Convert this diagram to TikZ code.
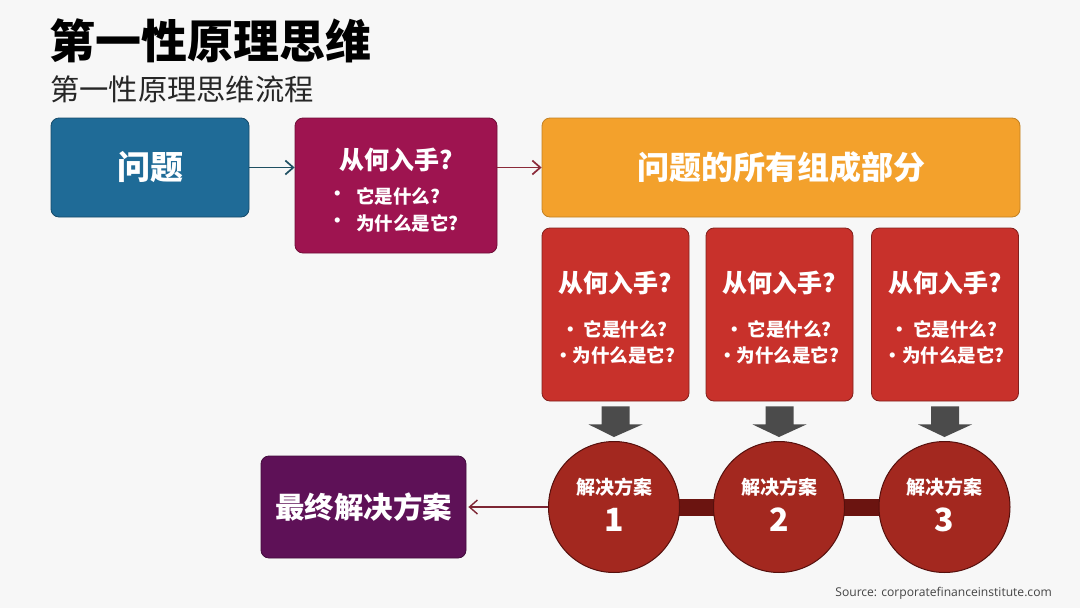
\documentclass[tikz,border=0pt]{standalone}
\usepackage{fontspec}
\setmainfont{Noto Sans CJK SC}
\newfontfamily\srcfont{Open Sans}
\usetikzlibrary{calc,arrows.meta}
\definecolor{bgc}{HTML}{F7F7F7}
\definecolor{blueb}{HTML}{1F6B97}
\definecolor{crim}{HTML}{9E1450}
\definecolor{orng}{HTML}{F3A12C}
\definecolor{redb}{HTML}{C8312B}
\definecolor{circc}{HTML}{A3281F}
\definecolor{barc}{HTML}{6B1410}
\definecolor{purp}{HTML}{5E1157}
\definecolor{grayar}{HTML}{4B4B4B}
\definecolor{tealar}{HTML}{1E4F61}
\definecolor{redar}{HTML}{8B2A3A}
\definecolor{srcc}{HTML}{444444}
\begin{document}
\begin{tikzpicture}[x=1pt,y=-1pt,
  rbox/.style={rounded corners=8pt, line width=0.8pt, inner sep=0pt, text=white, align=center},
  ttl/.style={text=white, inner sep=0pt, font=\bfseries\fontsize{25}{28}\selectfont},
  bul/.style={text=white, inner sep=0pt, font=\bfseries\fontsize{18.5}{22}\selectfont},
  blockarrow/.style={fill=grayar, draw=none},
  thinarrow/.style={line width=1.7pt, -{Straight Barb[length=8pt,width=14pt,line width=1.7pt]}},
  circ/.style={circle, minimum size=131pt, inner sep=0pt, fill=circc, draw=barc!80!black, line width=1pt}
]
% background and bounding box
\fill[bgc] (0,0) rectangle (1080,608);
\useasboundingbox (0,0) rectangle (1080,608);

% titles
\node[anchor=west, inner sep=0pt, font=\bfseries\fontsize{46}{50}\selectfont] (title) at (49,41) {第一性原理思维};
\node[anchor=west, inner sep=0pt, font=\fontsize{29.3}{32}\selectfont, text=black!85] (subtitle) at (50,89) {第一性原理思维流程};

% problem box
\node[rbox, fill=blueb, draw=blueb!70!black, minimum width=198pt, minimum height=99pt,
      font=\bfseries\fontsize{33}{36}\selectfont] (q) at (150,167.5) {问题};

% how to start box
\node[rbox, fill=crim, draw=crim!70!black, minimum width=202pt, minimum height=135pt] (h) at (396,185.5) {};
\node[ttl] (ht) at ($(h.north)+(0,42)$) {从何入手?};
\node[bul] (hb1) at (338,196) {•};
\node[bul, anchor=west] (hl1) at (356,196) {它是什么?};
\node[bul] (hb2) at (338,223) {•};
\node[bul, anchor=west] (hl2) at (356,223) {为什么是它?};

% components box
\node[rbox, fill=orng, draw=orng!80!black, minimum width=478pt, minimum height=99pt,
      font=\bfseries\fontsize{32}{34}\selectfont] (o) at (781,167.5) {问题的所有组成部分};

% arrows top row
\draw[thinarrow, tealar] (q.east) -- (h.west |- q.east);
\draw[thinarrow, redar] (h.east |- o.west) -- (o.west);

% red boxes
\foreach \i/\x in {1/615.5, 2/779.5, 3/945} {
  \node[rbox, fill=redb, draw=redb!65!black, minimum width=147pt, minimum height=173pt] (r\i) at (\x,314.5) {};
  \node[ttl] (rt\i) at ($(r\i.north)+(0,55)$) {从何入手?};
  \node[bul] (rl\i) at ($(r\i.north)+(-1,102)$) {• 它是什么?};
  \node[bul] (rm\i) at ($(r\i.north)+(-1,128)$) {•为什么是它?};
}

% solution circles: centers and bar
\coordinate (p1) at (614,507);
\coordinate (p2) at (779,507);
\coordinate (p3) at (944.5,507);
\draw[barc, line width=17pt] (p1) -- (p2);
\draw[barc, line width=17pt] (p2) -- (p3);
\foreach \i in {1,2,3} {
  \node[circ] (c\i) at (p\i) {};
  \node[text=white, inner sep=0pt, font=\bfseries\fontsize{19}{22}\selectfont] (cl\i) at ($(c\i.center)+(0,-20)$) {解决方案};
  \node[text=white, inner sep=0pt, font=\bfseries\fontsize{32}{36}\selectfont] (cn\i) at ($(c\i.center)+(0,13)$) {\i};
}

% block arrows
\foreach \i in {1,2,3} {
  \fill[blockarrow] ($(r\i.south)+(-14,5)$) -- ($(r\i.south)+(14,5)$) -- ($(r\i.south)+(14,23)$)
     -- ($(r\i.south)+(27,23)$) -- ($(c\i.north)+(0,-4)$) -- ($(r\i.south)+(-27,23)$)
     -- ($(r\i.south)+(-14,23)$) -- cycle;
}

% final box
\node[rbox, fill=purp, draw=purp!70!black, minimum width=205pt, minimum height=102pt,
      font=\bfseries\fontsize{29.5}{33}\selectfont] (f) at (363.5,507) {最终解决方案};
\draw[line width=1.4pt, redar!90!black, -{Straight Barb[length=8pt,width=14pt,line width=1.4pt]}] (c1.west) -- ($(f.east)+(2,0)$);

% source
\node[anchor=east, inner sep=0pt, text=srcc, font=\srcfont\fontsize{12.1}{14}\selectfont] (src) at (1052,593) {Source: corporatefinanceinstitute.com};
\end{tikzpicture}
\end{document}
